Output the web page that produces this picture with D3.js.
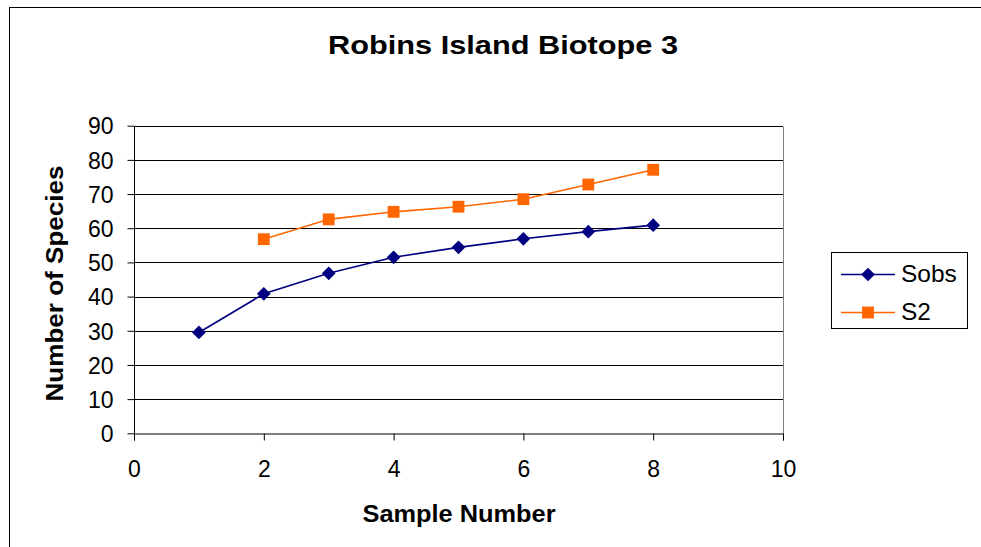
<!DOCTYPE html>
<html><head><meta charset="utf-8">
<script src="https://cdn.jsdelivr.net/npm/d3@7"></script>
<style>body{margin:0;background:#fff}svg{display:block;font-family:"Liberation Sans",Arial,sans-serif}</style>
</head><body><svg id="c" width="981" height="547"></svg>
<script>
const title = "Robins Island Biotope 3";
const xLabel = "Sample Number";
const yLabel = "Number of Species";
const sobsX = [1,2,3,4,5,6,7,8];
const sobsY = [29.5,40.8,46.8,51.5,54.4,56.9,59.0,60.9];
const s2X = [2,3,4,5,6,7,8];
const s2Y = [56.8,62.6,64.8,66.3,68.5,72.8,77.1];
const xTicks = [0,2,4,6,8,10];
const yTicks = [0,10,20,30,40,50,60,70,80,90];
const seriesNames = ["Sobs","S2"];
const seriesColors = ["#000080","#FF6600"];

const svg = d3.select("#c");
svg.append("rect").attr("x",9.5).attr("y",7.5).attr("width",1100).attr("height",700).attr("fill","none").attr("stroke","#000");

const L=134, R=783, T=125.7, B=433.3;
const x = d3.scaleLinear().domain([0,10]).range([L,R]);
const y = d3.scaleLinear().domain([0,90]).range([B,T]);

// gridlines
svg.append("g").selectAll("line").data(yTicks.filter(d=>d>0)).join("line")
  .attr("x1",L).attr("x2",R).attr("y1",d=>Math.round(y(d))+0.5).attr("y2",d=>Math.round(y(d))+0.5)
  .attr("stroke","#000").attr("stroke-width",1);
svg.append("line").attr("x1",Math.round(R)+0.5).attr("x2",Math.round(R)+0.5).attr("y1",Math.round(T)+0.5).attr("y2",Math.round(B)+0.5).attr("stroke","#808080");

const yAxis = d3.axisLeft(y).tickValues(yTicks).tickSize(7).tickPadding(14).tickFormat(d3.format("d"));
const gy = svg.append("g").attr("transform",`translate(${Math.round(L)+0.5},0)`).call(yAxis);
const xAxis = d3.axisBottom(x).tickValues(xTicks).tickSize(7).tickPadding(20).tickFormat(d3.format("d"));
const gx = svg.append("g").attr("transform",`translate(0,${Math.round(B)+0.5})`).call(xAxis);
[gx,gy].forEach(g=>{
  g.select(".domain").attr("stroke","#000");
  g.selectAll(".tick line").attr("stroke","#000");
  g.selectAll("text").attr("font-size",23).attr("fill","#000").attr("font-family","Liberation Sans, Arial, sans-serif");
});
gy.selectAll("text").attr("dy","0.36em");
gx.selectAll("text").attr("dy","0.71em");
gy.select(".domain").attr("d",`M-0,${Math.round(T)+0.5}V${Math.round(B)+0.5}`);

// title + labels
svg.append("text").attr("x",503).attr("y",53.5).attr("text-anchor","middle").attr("font-size",25.5).attr("font-weight","bold")
  .attr("textLength",350).attr("lengthAdjust","spacingAndGlyphs").text(title);
svg.append("text").attr("x",459).attr("y",522).attr("text-anchor","middle").attr("font-size",24).attr("font-weight","bold")
  .attr("textLength",193).attr("lengthAdjust","spacingAndGlyphs").text(xLabel);
svg.append("text").attr("transform","translate(63,283.5) rotate(-90)").attr("text-anchor","middle").attr("font-size",24.5).attr("font-weight","bold")
  .attr("textLength",236).attr("lengthAdjust","spacingAndGlyphs").text(yLabel);

const line = d3.line().x(d=>x(d[0])).y(d=>y(d[1]));
const sobs = sobsX.map((v,i)=>[v,sobsY[i]]);
const s2 = s2X.map((v,i)=>[v,s2Y[i]]);
const diamond = d3.symbol().type(d3.symbolDiamond2).size(120);
const square = d3.symbol().type(d3.symbolSquare).size(140);

svg.append("path").datum(s2).attr("d",line).attr("fill","none").attr("stroke",seriesColors[1]).attr("stroke-width",1.6);
svg.append("path").datum(sobs).attr("d",line).attr("fill","none").attr("stroke",seriesColors[0]).attr("stroke-width",1.6);
svg.append("g").selectAll("path").data(s2).join("path").attr("d",square).attr("transform",d=>`translate(${x(d[0])},${y(d[1])})`).attr("fill",seriesColors[1]);
svg.append("g").selectAll("path").data(sobs).join("path").attr("d",diamond).attr("transform",d=>`translate(${x(d[0])},${y(d[1])})`).attr("fill",seriesColors[0]);

// legend
const lg = svg.append("g");
lg.append("rect").attr("x",831.5).attr("y",252.5).attr("width",136).attr("height",76).attr("fill","#fff").attr("stroke","#000");
const rows=[274.5,312.5];
const syms=[diamond,square];
seriesNames.forEach((n,i)=>{
  lg.append("line").attr("x1",841).attr("x2",895).attr("y1",rows[i]).attr("y2",rows[i]).attr("stroke",seriesColors[i]).attr("stroke-width",1.6);
  lg.append("path").attr("d",syms[i]).attr("transform",`translate(868,${rows[i]})`).attr("fill",seriesColors[i]);
  lg.append("text").attr("x",901).attr("y",rows[i]+7.5).attr("font-size",24.5).text(n);
});
</script></body></html>
